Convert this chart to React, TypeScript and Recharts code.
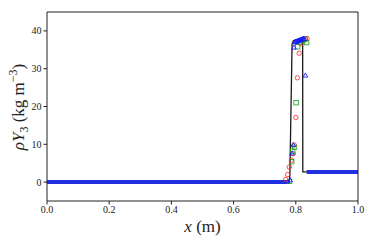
import React from "react";
import { ComposedChart, Line, Scatter, XAxis, YAxis } from "recharts";

// exact solution (black line)
const exactX = [0, 0.779, 0.781, 0.788, 0.792, 0.8, 0.81, 0.822, 0.8225, 1.0];
const exactY = [0, 0, 2, 36.5, 37.4, 37.6, 37.8, 38.0, 2.7, 2.7];

// coarse grid (red circles) in the jump
const redX = [0.768, 0.774, 0.779, 0.786, 0.792, 0.795, 0.8, 0.805, 0.811, 0.817, 0.824, 0.83, 0.836];
const redY = [0.7, 2.0, 4.0, 5.8, 7.5, 9.8, 17.1, 27.6, 34.1, 36.6, 37.5, 37.8, 38.0];

// medium grid (green squares)
const greenX = [0.78, 0.787, 0.79, 0.796, 0.801, 0.806, 0.812, 0.818, 0.824, 0.83, 0.835];
const greenY = [0.2, 5.4, 8.2, 9.2, 21.0, 35.8, 37.0, 37.4, 37.6, 37.8, 36.9];

// fine grid (blue triangles)
const blueX = [0.782, 0.788, 0.792, 0.794, 0.797, 0.8, 0.803, 0.806, 0.809, 0.812, 0.815, 0.818, 0.821, 0.824, 0.827, 0.831];
const blueY = [0.5, 7.6, 9.8, 35.6, 37.0, 37.1, 37.2, 37.3, 37.4, 37.5, 37.6, 37.7, 37.8, 37.9, 37.9, 28.2];

// dense markers on the flat states, drawn as a band
const leftStateX = [0, 0.781];
const leftStateY = [0, 0];
const rightStateX = [0.835, 1.0];
const rightStateY = [2.7, 2.7];

const xTicks = [0, 0.2, 0.4, 0.6, 0.8, 1.0];
const yTicks = [0, 10, 20, 30, 40];

const pts = (xs: number[], ys: number[]) => xs.map((x, i) => ({ x, y: ys[i] }));

const FONT = "'Liberation Serif', 'DejaVu Serif', serif";
const INK = "#222";

const Circle = (p: any) => (
  <circle cx={p.cx} cy={p.cy} r={2.2} fill="none" stroke="#ff2020" strokeWidth={0.8} />
);
const Square = (p: any) => (
  <rect x={p.cx - 2.2} y={p.cy - 2.2} width={4.4} height={4.4} fill="none" stroke="#1a9a1a" strokeWidth={0.8} />
);
const Triangle = (p: any) => (
  <path
    d={`M${p.cx},${p.cy - 2.6}L${p.cx + 2.3},${p.cy + 1.6}L${p.cx - 2.3},${p.cy + 1.6}Z`}
    fill="none"
    stroke="#1a1aff"
    strokeWidth={0.9}
  />
);

const XLabel = (props: any) => {
  const vb = props.viewBox;
  return (
    <text x={vb.x + vb.width / 2} y={vb.y + 31} textAnchor="middle" fontFamily={FONT} fontSize={17} fill={INK}>
      <tspan fontStyle="italic">x</tspan>
      <tspan> (m)</tspan>
    </text>
  );
};

const YLabel = () => (
  <text
    x={0}
    y={0}
    transform="translate(23.5,107) rotate(-90)"
    textAnchor="middle"
    fontFamily={FONT}
    fontSize={17}
    fill={INK}
  >
    <tspan fontStyle="italic">ρY</tspan>
    <tspan fontSize={12} dy={4}>3</tspan>
    <tspan dy={-4}> (kg m</tspan>
    <tspan fontSize={12} dy={-7}>−3</tspan>
    <tspan dy={7}>)</tspan>
  </text>
);

const tickStyle = { fontSize: 10, fill: INK, fontFamily: FONT };
const hiddenTick = { fontSize: 1, fill: "none" };

export default function App() {
  return (
    <div style={{ position: "fixed", left: 0, top: 0, background: "#fff" }}>
      <ComposedChart width={374} height={249} margin={{ top: 2, right: 6, left: 0, bottom: 0 }}>
        <XAxis
          xAxisId="b"
          dataKey="x"
          type="number"
          domain={[0, 1]}
          ticks={xTicks}
          tickFormatter={(v: number) => v.toFixed(1)}
          height={48}
          stroke={INK}
          tick={tickStyle}
          tickSize={3.5}
          tickMargin={1}
          label={<XLabel />}
        />
        <XAxis
          xAxisId="t"
          orientation="top"
          dataKey="x"
          type="number"
          domain={[0, 1]}
          height={10}
          stroke={INK}
          tick={hiddenTick}
          tickSize={0}
        />
        <YAxis
          yAxisId="l"
          dataKey="y"
          type="number"
          domain={[-5, 45]}
          ticks={yTicks}
          width={47}
          stroke={INK}
          tick={tickStyle}
          tickSize={3.5}
          tickMargin={2}
          label={<YLabel />}
        />
        <YAxis
          yAxisId="r"
          orientation="right"
          dataKey="y"
          type="number"
          domain={[-5, 45]}
          width={10}
          stroke={INK}
          tick={hiddenTick}
          tickSize={0}
        />
        <Line
          xAxisId="b"
          yAxisId="l"
          data={pts(exactX, exactY)}
          dataKey="y"
          type="linear"
          stroke="#1a1a1a"
          strokeWidth={1.3}
          dot={false}
          isAnimationActive={false}
        />
        <Scatter xAxisId="b" yAxisId="l" data={pts(redX, redY)} dataKey="y" shape={Circle} isAnimationActive={false} />
        <Scatter xAxisId="b" yAxisId="l" data={pts(greenX, greenY)} dataKey="y" shape={Square} isAnimationActive={false} />
        <Line
          xAxisId="b"
          yAxisId="l"
          data={pts(leftStateX, leftStateY)}
          dataKey="y"
          stroke="#2030e0"
          strokeWidth={4}
          dot={false}
          isAnimationActive={false}
        />
        <Line
          xAxisId="b"
          yAxisId="l"
          data={pts(rightStateX, rightStateY)}
          dataKey="y"
          stroke="#2030e0"
          strokeWidth={4}
          dot={false}
          isAnimationActive={false}
        />
        <Scatter xAxisId="b" yAxisId="l" data={pts(blueX, blueY)} dataKey="y" shape={Triangle} isAnimationActive={false} />
        {/* invisible series bound to the frame axes */}
        <Line
          xAxisId="t"
          yAxisId="r"
          data={pts(leftStateX, leftStateY)}
          dataKey="y"
          stroke="none"
          dot={false}
          isAnimationActive={false}
        />
      </ComposedChart>
    </div>
  );
}
